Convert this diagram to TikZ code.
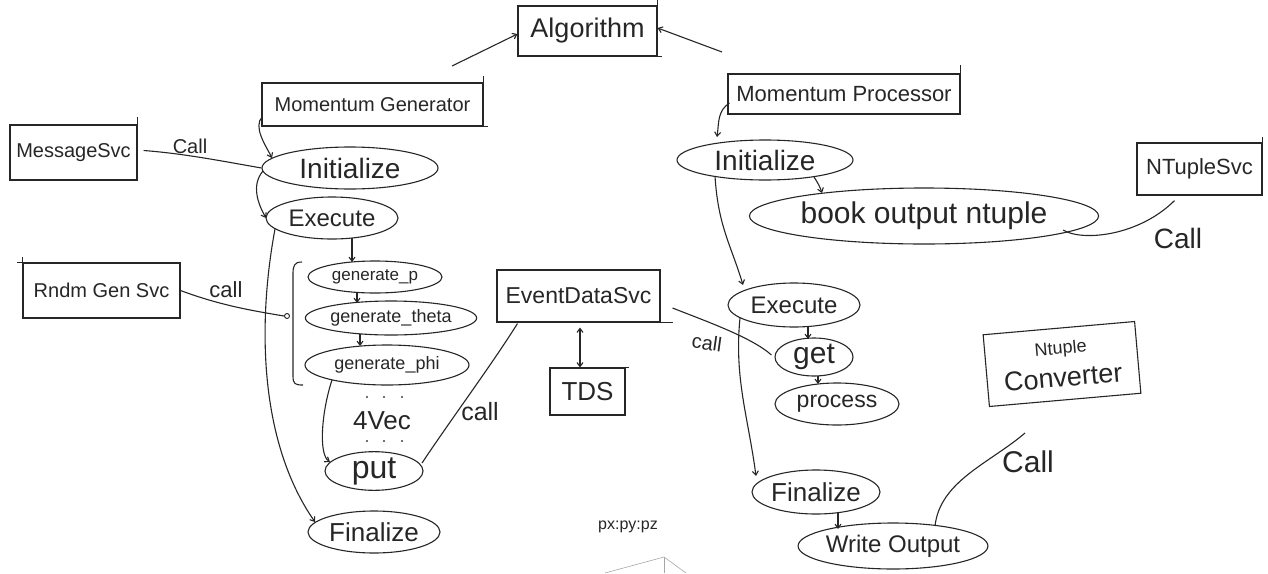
\documentclass[tikz,border=0pt]{standalone}
\usepackage{fontspec}
\setmainfont{Liberation Sans}
\usetikzlibrary{arrows.meta,shapes.geometric}
\newcommand\fsz[1]{\fontsize{#1}{#1}\selectfont}

\begin{document}
\begin{tikzpicture}[x=1pt,y=-1pt,
  ink/.style={draw=black!85, line width=1.1pt},
  arr/.style={ink, -{Straight Barb[length=4pt,width=6pt]}},
  darr/.style={ink, {Straight Barb[length=4pt,width=6pt]}-{Straight Barb[length=4pt,width=6pt]}},
  box/.style={ink, rectangle, inner sep=0pt, text=black!85},
  oval/.style={ink, ellipse, inner sep=0pt, text=black!85},
  lbl/.style={inner sep=0pt, text=black!85},
]
\useasboundingbox (0,0) rectangle (1268,573);

% ---------- boxes ----------
\node[box, minimum width=139pt, minimum height=50pt] (alg) at (587.5,31) {\fsz{27}Algorithm};
\node[box, minimum width=221pt, minimum height=43pt] (mg) at (372.5,104.5) {\fsz{20}Momentum Generator};
\node[box, minimum width=232pt, minimum height=40pt] (mp) at (844,94) {\fsz{22}Momentum Processor};
\node[box, minimum width=127pt, minimum height=55pt] (msg) at (73.5,152.5) {\fsz{20}MessageSvc};
\node[box, minimum width=157pt, minimum height=55pt] (rnd) at (101.5,290.5) {\fsz{20}Rndm Gen Svc};
\node[box, minimum width=163pt, minimum height=52pt] (eds) at (578.5,296) {\fsz{23}EventDataSvc};
\node[box, minimum width=75pt, minimum height=47pt] (tds) at (587.5,391.5) {\fsz{26}TDS};
\node[box, minimum width=125pt, minimum height=52pt] (nts) at (1199.5,169) {\fsz{22}NTupleSvc};
\node[box, minimum width=152pt, minimum height=72pt, rotate=5, align=center] (ntc) at (1062,364)
  {\fsz{18}Ntuple\\[9pt]\fsz{27}Converter};

% corner overshoots of the hand-drawn boxes
\draw[ink] (alg.north east) -- ++(0,-5);
\draw[ink] (alg.south east) -- ++(4,0);
\draw[ink] (mg.north east) -- ++(0,-6);
\draw[ink] (mg.south east) -- ++(4,0);
\draw[ink] (msg.north east) -- ++(0,-7);
\draw[ink] (rnd.north west) -- ++(-5,0);
\draw[ink] (rnd.north west) -- ++(0,-5);
\draw[ink] (mp.north east) -- ++(0,-8);
\draw[ink] (nts.north east) -- ++(0,-5);
\draw[ink] (eds.south east) -- ++(12,0);
\draw[ink] (tds.north east) -- ++(3,0);

% ---------- left algorithm ----------
\node[oval, minimum width=176pt, minimum height=42pt] (iniL) at (350,168) {\fsz{28}Initialize};
\node[oval, minimum width=132pt, minimum height=42pt] (exL) at (332,218) {\fsz{24}Execute};
\node[oval, minimum width=134pt, minimum height=32pt] (gp) at (375,277) {\fsz{17}generate\_p};
\node[oval, minimum width=158pt, minimum height=34pt] (gt) at (391,318) {\fsz{18}generate\_theta};
\node[oval, minimum width=164pt, minimum height=40pt] (gph) at (387,365) {\fsz{18}generate\_phi};
\node[lbl] (vec) at (382,421) {\fsz{26}4Vec};
\node[oval, minimum width=98pt, minimum height=34pt] (put) at (374,471) {\fsz{32}put};
\node[oval, minimum width=132pt, minimum height=42pt] (finL) at (374,532) {\fsz{26}Finalize};

% dots around 4Vec
\foreach \xx in {367,384,402} {
  \fill[black!75] (\xx,397) circle (1.2pt);
  \fill[black!75] (\xx,441) circle (1.2pt);
}

% brace grouping the generate steps
\node[ink, circle, inner sep=0pt, minimum size=5pt, line width=0.9pt] (brace) at (287,316) {};
\draw[ink] ([shift={(15,-54)}]brace.center) .. controls +(-8,0) and +(0,-8) .. ([shift={(6,-42)}]brace.center)
  -- ([shift={(6,60)}]brace.center) .. controls +(0,8) and +(-8,0) .. ([shift={(16,69)}]brace.center);

\coordinate (mgtop) at (452,66);
\draw[arr] (mgtop) -- ([shift={(0,3)}]alg.west);

\draw[arr] ([shift={(1,-10)}]mg.south west) .. controls +(-10,10) and +(-6,-12) .. ([shift={(-78,-10)}]iniL.center);
\draw[arr] ([shift={(-87,3)}]iniL.center) .. controls +(-12,14) and +(-8,-14) .. ([shift={(-66,0)}]exL.center);
\draw[ink] ([shift={(6,-2)}]msg.east) .. controls +(40,3) and +(-40,-7) .. (iniL.west);
\node[lbl] (callA) at (190,146) {\fsz{20}Call};

\draw[arr] ([shift={(20,20)}]exL.center) -- ([shift={(-23,-15)}]gp.center);
\draw[arr] ([shift={(-18,15)}]gp.center) -- ([shift={(-34,-15)}]gt.center);
\draw[arr] ([shift={(-31,16)}]gt.center) -- ([shift={(-27,-19)}]gph.center);
\draw[arr] ([shift={(-55,15)}]gph.center) .. controls +(-10,30) and +(-12,-8) .. ([shift={(-44,-9)}]put.center);
\draw[arr] ([shift={(-57,11)}]exL.center) .. controls +(-17,91) and +(-57,-82) .. ([shift={(-59,-10)}]finL.center);

\draw[ink] (rnd.east) .. controls +(40,15) and +(-30,-5) .. (brace.west);
\node[lbl] (callB) at (226,290) {\fsz{22}call};

\draw[ink] ([shift={(48,-8)}]put.center) .. controls +(30,-45) and +(-25,40) .. ([shift={(21,1)}]eds.south west);
\node[lbl] (callC) at (480,412) {\fsz{25}call};

% ---------- middle ----------
\draw[darr] ([shift={(1.5,5)}]eds.south) -- ([shift={(-7.5,0)}]tds.north);
\node[lbl] (pxl) at (628,527) {\fsz{16}px:py:pz};
\draw[black!35, line width=0.6pt] (605,573) -- (664,557) -- (686,573);
\draw[black!35, line width=0.6pt] (664,557) -- (664,573);

% ---------- right algorithm ----------
\coordinate (mptop) at (722,52);
\draw[arr] (mptop) -- ([shift={(0,-3)}]alg.east);

\node[oval, minimum width=176pt, minimum height=40pt] (iniR) at (765,160) {\fsz{28}Initialize};
\node[oval, minimum width=288pt, minimum height=56pt] (book) at (924,216) {\fsz{30}book output ntuple};
\node[oval, minimum width=132pt, minimum height=44pt] (exR) at (794,305) {\fsz{24}Execute};
\node[oval, minimum width=78pt, minimum height=38pt] (get) at (814,357) {\fsz{30}get};
\node[oval, minimum width=124pt, minimum height=42pt] (proc) at (837,404) {\fsz{23}process};
\node[oval, minimum width=128pt, minimum height=44pt] (finR) at (816,492) {\fsz{26}Finalize};
\node[oval, minimum width=170pt, minimum height=46pt] (wout) at (893,546) {\fsz{24}Write Output};

\draw[arr] ([shift={(2,9)}]mp.west) .. controls +(-12,8) and +(2,-15) .. ([shift={(-48,-23)}]iniR.center);
\draw[arr] ([shift={(49,17)}]iniR.center) .. controls +(4,6) and +(-2,-6) .. ([shift={(-102,-23)}]book.center);
\draw[arr] ([shift={(-50,16)}]iniR.center) .. controls +(3,50) and +(-12,-40) .. ([shift={(-51,-20)}]exR.center);
\draw[arr] ([shift={(14,21)}]exR.center) -- ([shift={(-6,-18)}]get.center);
\draw[arr] ([shift={(4,19)}]get.center) -- ([shift={(-19,-20)}]proc.center);
\draw[arr] ([shift={(-54,13)}]exR.center) .. controls +(-6,60) and +(-8,-60) .. ([shift={(-60,-16)}]finR.center);
\draw[arr] ([shift={(22,21)}]finR.center) -- ([shift={(-55,-17)}]wout.center);

\draw[ink] ([shift={(12,12)}]eds.east) .. controls +(30,12) and +(-20,-18) .. ([shift={(-3,-2)}]get.west);
\node[lbl, rotate=-8] (callD) at (707,343) {\fsz{20}call};

\draw[ink] ([shift={(139,14)}]book.center) .. controls +(20,12) and +(-35,35) .. ([shift={(-25,5)}]nts.south);
\node[lbl] (callE) at (1178,238) {\fsz{28}Call};

\coordinate (ntcend) at (1025,433);
\draw[ink] ([shift={(42,-20)}]wout.center) .. controls +(5,-45) and +(-35,30) .. (ntcend);
\node[lbl] (callF) at (1028,462) {\fsz{30}Call};
\end{tikzpicture}
\end{document}
